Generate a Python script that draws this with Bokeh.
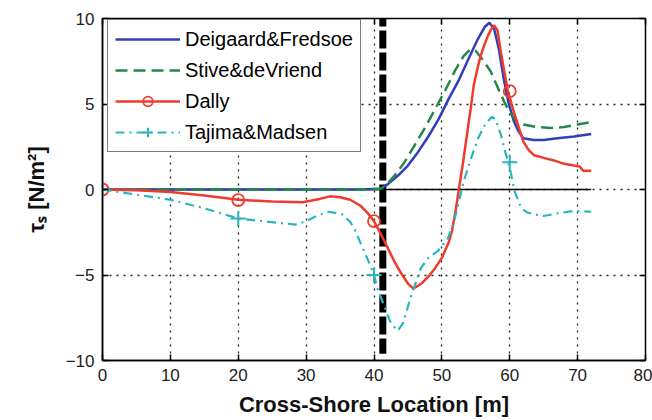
from bokeh.plotting import figure
from bokeh.models import Legend, LegendItem, LinearAxis, FixedTicker, Range1d
from bokeh.embed import file_html
from bokeh.resources import INLINE

# ---- data ----
deig_x = [0, 10, 20, 30, 38, 41, 42, 43.5, 45, 46.5, 48, 49.5, 51, 52.5, 54, 55.3, 56.3, 57, 57.7,
          58.4, 59.1, 59.8, 60.6, 61.3, 62, 63.5, 65, 67, 69.5, 72]
deig_y = [0, 0, 0, 0, 0, 0.05, 0.3, 0.8, 1.4, 2.2, 3.1, 4.1, 5.3, 6.4, 7.7, 8.8, 9.5, 9.75, 9.4,
          8.2, 6.5, 5.1, 4.0, 3.4, 3.0, 2.9, 2.9, 3.0, 3.1, 3.25]

stive_x = [0, 10, 20, 30, 38, 41, 42, 43, 44.5, 46, 47.5, 49, 50.5, 52, 53.2, 54.2, 55, 56, 57.2,
           58.3, 59.1, 60, 61, 62, 64, 66, 68, 70, 72]
stive_y = [0, 0, 0, 0, 0, 0.05, 0.35, 0.8, 1.6, 2.6, 3.6, 4.7, 5.8, 7.0, 7.8, 8.2, 8.1, 7.6, 6.9,
           5.9, 5.2, 4.5, 4.0, 3.8, 3.65, 3.6, 3.65, 3.8, 3.95]

dally_x = [0, 5, 10, 15, 20, 25, 29.5, 32, 33.5, 35, 36.5, 38, 39, 40, 41, 42, 43, 44, 45, 45.8,
           47, 48, 49, 50, 51, 51.5, 52, 52.5, 53.2, 53.8, 54.3, 54.7, 55.2, 55.7, 56.3, 56.8, 57.3,
           57.7, 58.2, 58.7, 59.2, 59.7, 60.2, 60.7, 61.2, 62, 62.8, 63.6, 65, 66.5, 68, 69.5, 70.3,
           70.8, 72]
dally_y = [0, -0.05, -0.15, -0.35, -0.6, -0.7, -0.75, -0.55, -0.4, -0.45, -0.6, -0.95, -1.35, -1.85,
           -2.6, -3.4, -4.2, -4.9, -5.5, -5.8, -5.5, -5.1, -4.6, -4.0, -3.1, -2.4, -1.3, 0.0, 1.8,
           3.5, 4.9, 6.1, 7.0, 7.8, 8.5, 9.0, 9.4, 9.6, 9.3, 8.0, 6.9, 5.8, 5.1, 4.4, 3.8, 2.8, 2.3,
           2.0, 1.85, 1.7, 1.5, 1.4, 1.35, 1.1, 1.1]
dally_mx = [0, 20, 40, 60]
dally_my = [0, -0.62, -1.85, 5.75]

taj_x = [0, 5, 10, 15, 20, 23.5, 26, 28.5, 30, 31.5, 33.3, 35.3, 36.5, 37.3, 38.3, 39.2, 40, 40.5,
         41, 41.8, 42.5, 43.5, 44.3, 45.4, 46.2, 46.9, 48, 49.4, 50.9, 51.7, 52.4, 53.2, 54.2, 55.3,
         56.2, 56.8, 57.4, 57.9, 58.7, 59.2, 59.8, 60.2, 60.7, 61.7, 62.6, 63.6, 65, 67, 69.5, 72]
taj_y = [0, -0.3, -0.6, -1.1, -1.7, -1.85, -1.95, -2.05, -1.85, -1.55, -1.3, -1.45, -1.9, -2.45,
         -3.4, -4.2, -5.0, -5.8, -6.3, -7.1, -7.85, -8.25, -7.8, -6.3, -5.4, -4.6, -4.0, -3.6,
         -2.85, -2.0, -0.9, 0.45, 1.7, 2.95, 3.7, 4.0, 4.25, 4.1, 3.2, 2.4, 1.55, 0.9, -0.1, -1.1,
         -1.35, -1.45, -1.55, -1.4, -1.25, -1.3]
taj_mx = [0, 20, 40, 60]
taj_my = [0, -1.7, -5.0, 1.6]

zero_x = [0, 72]
zero_y = [0, 0]
break_x = [41.3, 41.3]
break_y = [10, -9.6]

x_ticks = [0, 10, 20, 30, 40, 50, 60, 70, 80]
y_ticks = [-10, -5, 0, 5, 10]

BLUE = "#2f3fb8"
GREEN = "#23884a"
RED = "#f03a2c"
CYAN = "#2ab5be"
FONT = "Liberation Sans"

p = figure(width=652, height=420, x_range=Range1d(0, 80), y_range=Range1d(-10, 10),
           output_backend="svg", toolbar_location=None,
           min_border_left=102, min_border_right=7, min_border_top=18, min_border_bottom=60,
           background_fill_color="white", border_fill_color="white")
p.outline_line_color = "black"
p.outline_line_width = 1.5

# grid
for g, t in ((p.xgrid, x_ticks), (p.ygrid, y_ticks)):
    g.ticker = FixedTicker(ticks=t)
    g.grid_line_color = "#222222"
    g.grid_line_dash = "2 5"
    g.grid_line_width = 1.3

# axes
for ax, t in ((p.xaxis, x_ticks), (p.yaxis, y_ticks)):
    ax.ticker = FixedTicker(ticks=t)
    ax.major_tick_in = 6
    ax.major_tick_out = 0
    ax.minor_tick_line_color = None
    ax.axis_line_color = "black"
    ax.axis_line_width = 1.5
    ax.major_tick_line_width = 1.5
    ax.major_label_text_font = FONT
    ax.major_label_text_font_size = "17px"
    ax.major_label_text_color = "#222222"
    ax.axis_label_text_font = FONT
    ax.axis_label_text_font_size = "22px"
    ax.axis_label_text_font_style = "bold"
    ax.axis_label_text_color = "#111111"

p.xaxis.axis_label = "Cross-Shore Location [m]"
p.yaxis.axis_label = "τₛ [N/m²]"
p.xaxis.major_label_standoff = 8
p.xaxis.axis_label_standoff = 8
p.yaxis.major_label_standoff = 8
p.yaxis.axis_label_standoff = 14

# top and right axes (ticks only, labels not drawn)
top = LinearAxis(ticker=FixedTicker(ticks=x_ticks))
right = LinearAxis(ticker=FixedTicker(ticks=y_ticks))
for ax in (top, right):
    ax.major_tick_in = 6
    ax.major_tick_out = 0
    ax.minor_tick_line_color = None
    ax.axis_line_color = "black"
    ax.major_tick_line_width = 1.5
    ax.major_label_text_font_size = "1px"
    ax.major_label_text_color = None
    ax.major_label_standoff = 0
p.add_layout(top, "above")
p.add_layout(right, "right")

# zero line and break line
p.line(zero_x, zero_y, line_color="black", line_width=1.6)
p.line(break_x, break_y, line_color="black", line_width=7, line_dash="18 4", line_dash_offset=10)

# series
r_deig = p.line(deig_x, deig_y, line_color=BLUE, line_width=2.5)
r_stive = p.line(stive_x, stive_y, line_color=GREEN, line_width=2.5, line_dash="12 6")
r_dally = p.line(dally_x, dally_y, line_color=RED, line_width=2.5)
r_dally_m = p.scatter(dally_mx, dally_my, marker="circle", size=12, fill_color=None,
                      line_color=RED, line_width=1.8)
r_taj = p.line(taj_x, taj_y, line_color=CYAN, line_width=2.2, line_dash="9 5 2 5")
r_taj_m = p.scatter(taj_mx, taj_my, marker="cross", size=15, line_color=CYAN, line_width=2)

legend = Legend(items=[
    LegendItem(label="Deigaard&Fredsoe", renderers=[r_deig]),
    LegendItem(label="Stive&deVriend", renderers=[r_stive]),
    LegendItem(label="Dally", renderers=[r_dally, r_dally_m]),
    LegendItem(label="Tajima&Madsen", renderers=[r_taj, r_taj_m]),
], location=(5, 208))
legend.label_text_font = FONT
legend.label_text_font_size = "20px"
legend.label_text_color = "black"
legend.glyph_width = 65
legend.glyph_height = 24
legend.label_height = 24
legend.label_standoff = 5
legend.spacing = 7
legend.padding = 7
legend.margin = 0
legend.border_line_color = "black"
legend.border_line_width = 1.5
legend.background_fill_color = "white"
legend.background_fill_alpha = 1
p.add_layout(legend)

open("out.html", "w").write(file_html(p, INLINE))
